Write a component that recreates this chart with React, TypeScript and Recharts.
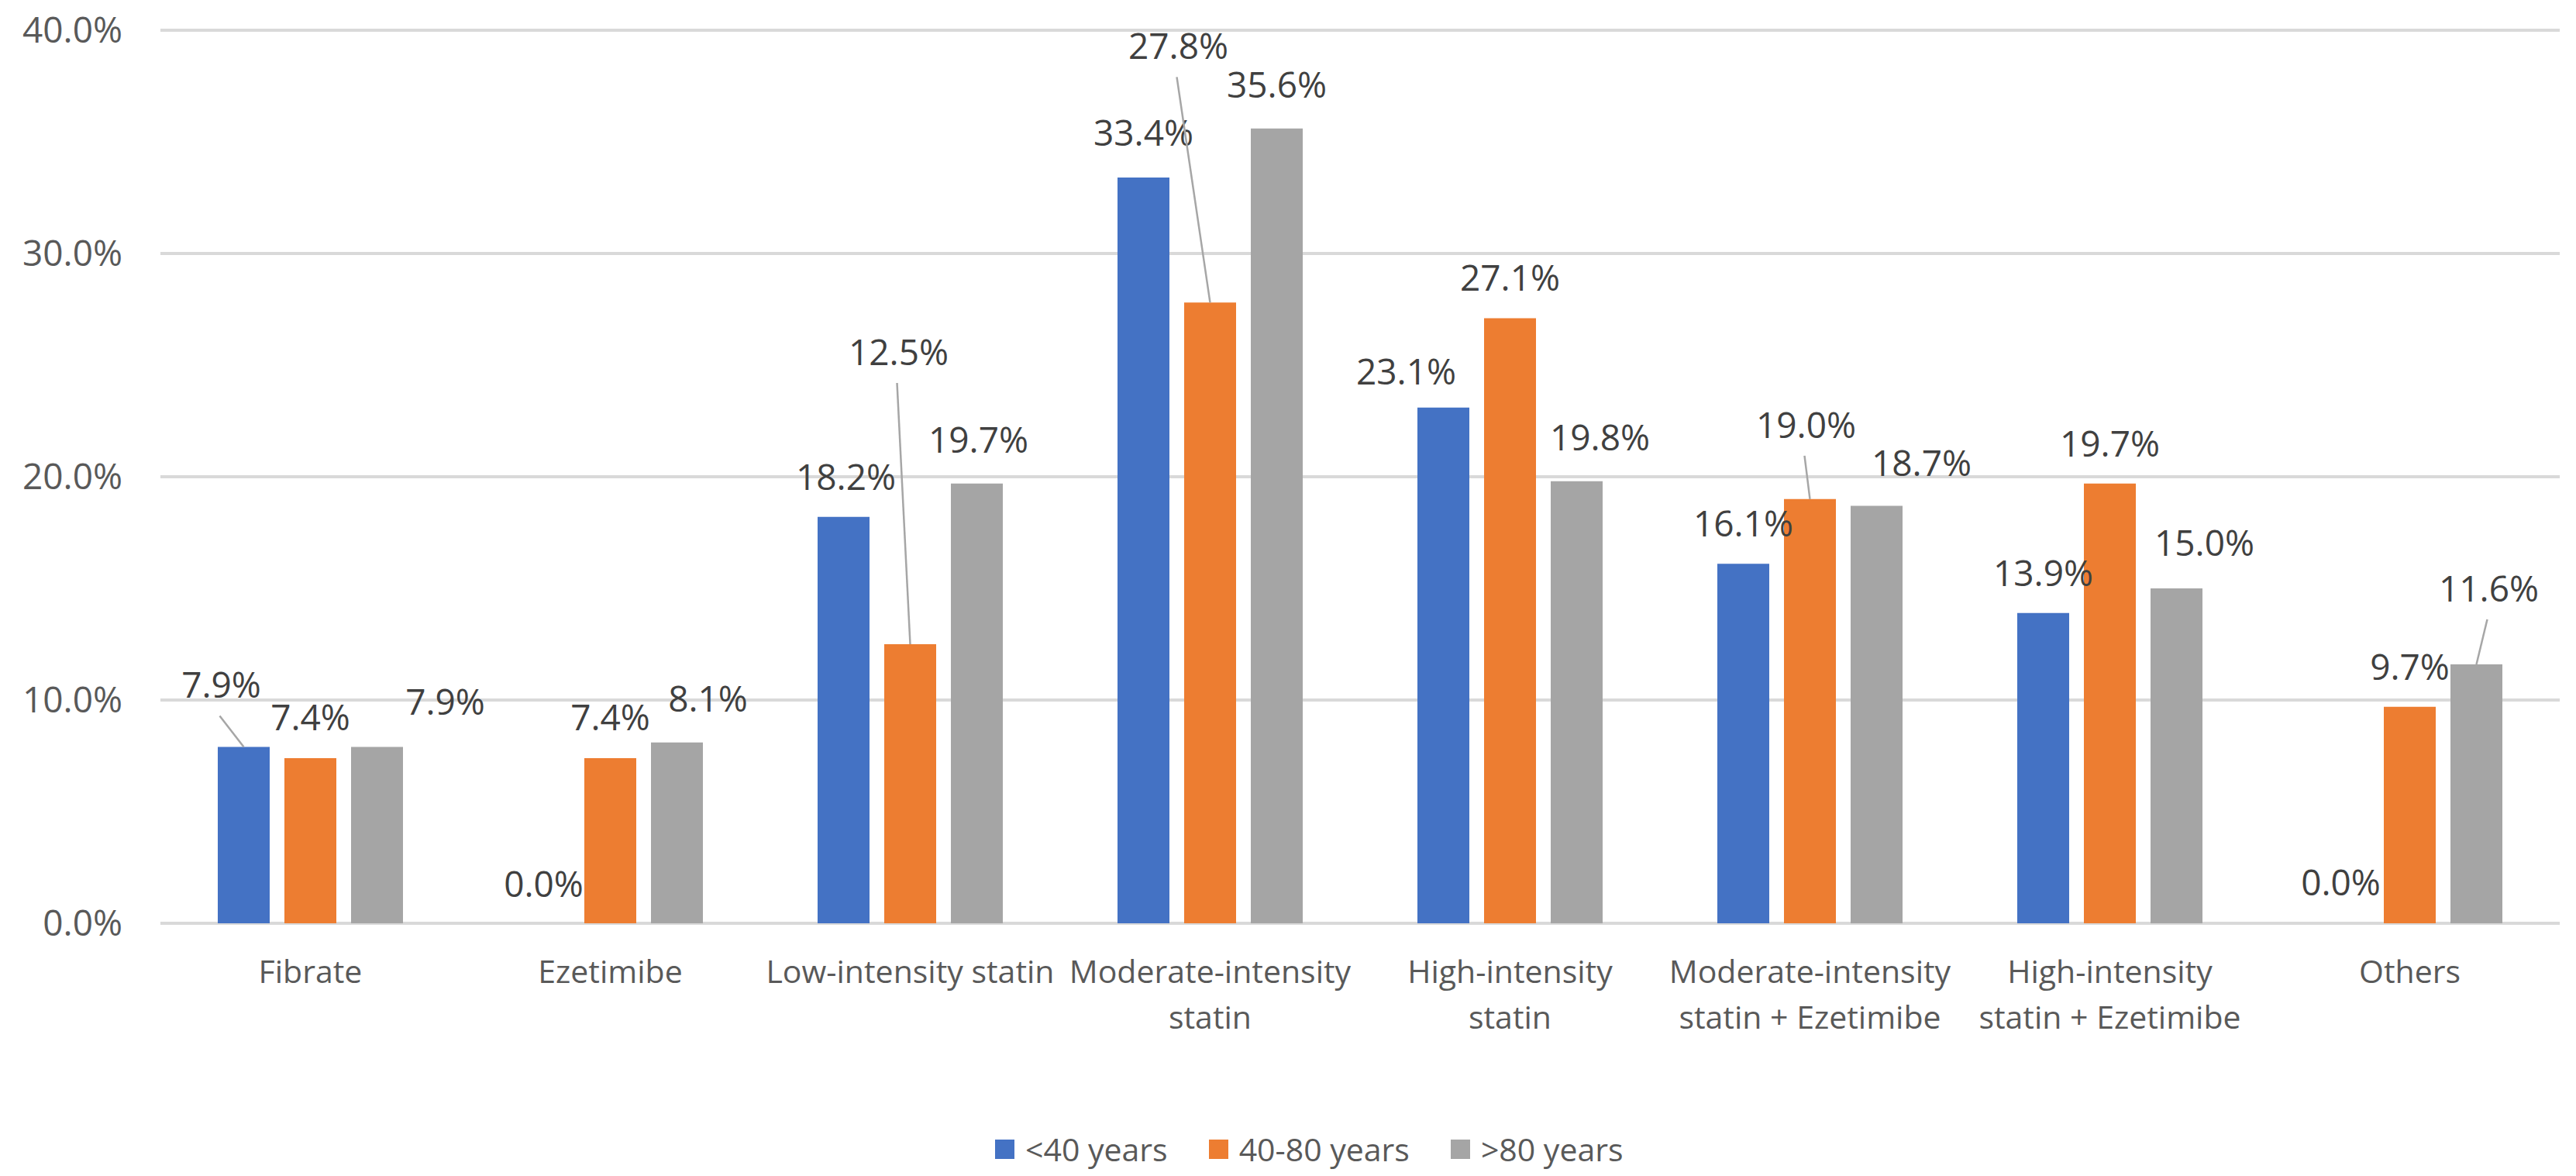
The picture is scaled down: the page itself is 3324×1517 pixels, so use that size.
import React from "react";
import { BarChart, Bar, XAxis, YAxis, CartesianGrid, Legend } from "recharts";

const categories = [
  "Fibrate",
  "Ezetimibe",
  "Low-intensity statin",
  "Moderate-intensity statin",
  "High-intensity statin",
  "Moderate-intensity statin + Ezetimibe",
  "High-intensity statin + Ezetimibe",
  "Others",
];
const under40 = [7.9, 0.0, 18.2, 33.4, 23.1, 16.1, 13.9, 0.0];
const from40to80 = [7.4, 7.4, 12.5, 27.8, 27.1, 19.0, 19.7, 9.7];
const over80 = [7.9, 8.1, 19.7, 35.6, 19.8, 18.7, 15.0, 11.6];
const seriesNames = ["<40 years", "40-80 years", ">80 years"];
const yTicks = [0, 10, 20, 30, 40];

const colors = ["#4472C4", "#ED7D31", "#A5A5A5"];
const font = "'Open Sans', sans-serif";

const data = categories.map((name, i) => ({
  name,
  under40: under40[i],
  from40to80: from40to80[i],
  over80: over80[i],
}));

// label nudges like Excel's auto-placement: [dx, gap above bar top, leader line]
type Nudge = [number, number, boolean?];
const labelNudges: Nudge[][] = [
  [[-29, 63, true], [0, 34], [3, 35], [0, 41], [-48, 30], [0, 35], [0, 35], [-3, 36]],
  [[0, 36], [0, 36], [-15, 360, true], [-41, 314, true], [0, 36], [-5, 79, true], [0, 35], [0, 35]],
  [[88, 41], [40, 40], [2, 40], [0, 40], [30, 40], [58, 38], [36, 42], [16, 81, true]],
];

function makeLabel(series: number) {
  return (props: any) => {
    const { x, y, width, value, index } = props;
    const [dx, gap, leader] = labelNudges[series][index] || [0, 36];
    const cx = Number(x) + Number(width) / 2;
    const tx = cx + dx;
    const base = Number(y) - gap;
    return (
      <g key={`lbl-${series}-${index}`}>
        {leader && (
          <line x1={tx - 2} y1={base + 23} x2={cx} y2={y} stroke="#a6a6a6" strokeWidth={2.5} />
        )}
        <text x={tx} y={base} textAnchor="middle" fontSize={46} fill="#404040" fontFamily={font}>
          {Number(value).toFixed(1)}%
        </text>
      </g>
    );
  };
}

let ctx: CanvasRenderingContext2D | null = null;
function measure(s: string) {
  if (!ctx) ctx = document.createElement("canvas").getContext("2d");
  if (!ctx) return s.length * 20;
  ctx.font = `41px ${font}`;
  return ctx.measureText(s).width;
}

function wrap(label: string, maxWidth: number) {
  const lines: string[] = [];
  let cur = "";
  label.split(" ").forEach((w) => {
    const next = cur ? `${cur} ${w}` : w;
    if (cur && measure(next) > maxWidth) {
      lines.push(cur);
      cur = w;
    } else {
      cur = next;
    }
  });
  if (cur) lines.push(cur);
  return lines;
}

const CategoryTick = (props: any) => {
  const { x, y, payload } = props;
  const lines = wrap(String(payload.value), 373);
  return (
    <text x={x} y={y} textAnchor="middle" fill="#595959" fontSize={41} fontFamily={font}>
      {lines.map((l, i) => (
        <tspan key={i} x={x} dy={i === 0 ? 29 : 59}>
          {l}
        </tspan>
      ))}
    </text>
  );
};

const renderLegend = () => (
  <div
    style={{
      display: "flex",
      alignItems: "center",
      height: "100%",
      paddingLeft: 1284,
      gap: 53,
      fontFamily: font,
      fontSize: 41,
      color: "#595959",
    }}
  >
    {seriesNames.map((n, i) => (
      <div key={n} style={{ display: "flex", alignItems: "center" }}>
        <span
          style={{ display: "inline-block", width: 25, height: 25, background: colors[i], marginRight: 14 }}
        />
        {n}
      </div>
    ))}
  </div>
);

export default function App() {
  return (
    <div style={{ position: "absolute", left: 0, top: 0, width: 3324, height: 1517, background: "#fff" }}>
      <BarChart
        width={3324}
        height={1517}
        data={data}
        margin={{ top: 39, right: 21, left: 0, bottom: 0 }}
        barGap={19}
        barSize={67}
      >
        <CartesianGrid vertical={false} stroke="#d9d9d9" strokeWidth={4} />
        <XAxis
          dataKey="name"
          height={272}
          axisLine={false}
          tickLine={false}
          tickSize={0}
          tickMargin={48}
          interval={0}
          tick={<CategoryTick />}
        />
        <YAxis
          width={207}
          domain={[0, 40]}
          ticks={yTicks}
          axisLine={false}
          tickLine={false}
          tickSize={0}
          tickMargin={49}
          tickFormatter={(v: number) => `${v.toFixed(1)}%`}
          tick={{ fontSize: 46, fill: "#595959", fontFamily: font }}
        />
        <Legend
          verticalAlign="bottom"
          content={renderLegend}
          wrapperStyle={{ position: "absolute", top: 1455, bottom: "auto", left: 0, width: 3324, height: 54 }}
        />
        <Bar dataKey="under40" name={seriesNames[0]} fill={colors[0]} minPointSize={0.01} isAnimationActive={false} label={makeLabel(0)} />
        <Bar dataKey="from40to80" name={seriesNames[1]} fill={colors[1]} minPointSize={0.01} isAnimationActive={false} label={makeLabel(1)} />
        <Bar dataKey="over80" name={seriesNames[2]} fill={colors[2]} minPointSize={0.01} isAnimationActive={false} label={makeLabel(2)} />
      </BarChart>
    </div>
  );
}
